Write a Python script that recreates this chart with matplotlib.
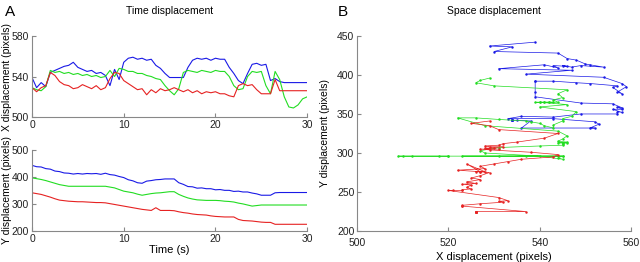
import numpy as np
import matplotlib.pyplot as plt

plt.rcParams['font.family'] = ['Liberation Sans', 'DejaVu Sans']

# time axis, sampled every 0.5 s
t = np.arange(61) * 0.5

# X position over time (pixels)
blue_x = [539, 529, 534, 530, 544, 546, 548, 550, 551, 554, 549, 547, 545, 546, 543, 544, 541, 531, 547, 537,
          554, 558, 559, 557, 558, 556, 557, 551, 548, 543, 539, 539, 539, 539, 549, 556, 558, 557, 558, 556,
          558, 557, 557, 549, 543, 536, 533, 543, 552, 553, 551, 552, 536, 538, 535, 534, 534, 534, 534, 534,
          534]
green_x = [529, 527, 526, 530, 546, 544, 545, 543, 544, 542, 543, 541, 542, 540, 541, 539, 540, 546, 540, 548,
           547, 545, 545, 543, 543, 541, 540, 538, 537, 531, 526, 522, 528, 544, 546, 545, 544, 546, 545, 544,
           546, 545, 545, 540, 531, 527, 528, 540, 545, 544, 545, 531, 523, 545, 537, 520, 510, 509, 512, 518,
           520]
red_x = [529, 525, 529, 531, 544, 541, 535, 532, 531, 528, 529, 532, 530, 528, 531, 527, 529, 538, 544, 543,
         536, 533, 530, 527, 528, 522, 527, 524, 528, 526, 527, 529, 527, 525, 527, 524, 526, 523, 525, 524,
         525, 523, 523, 521, 520, 531, 533, 531, 532, 527, 523, 523, 523, 537, 526, 526, 526, 526, 526, 526,
         526]

# Y position over time (pixels)
blue_y = [442, 437, 436, 430, 428, 421, 419, 414, 413, 410, 412, 410, 412, 411, 412, 409, 413, 408, 406, 401,
          397, 389, 385, 378, 376, 384, 386, 389, 390, 392, 392, 392, 378, 372, 364, 363, 358, 359, 356, 356,
          352, 353, 350, 350, 346, 347, 344, 344, 340, 337, 332, 332, 332, 341, 342, 342, 342, 342, 342, 342,
          342]
green_y = [396, 393, 390, 386, 381, 376, 371, 368, 365, 365, 365, 365, 365, 365, 365, 365, 365, 362, 359, 353,
           347, 344, 341, 336, 332, 335, 338, 340, 341, 343, 345, 345, 335, 328, 322, 318, 315, 314, 313, 313,
           313, 312, 310, 309, 307, 303, 300, 296, 292, 294, 296, 296, 296, 296, 296, 296, 296, 296, 296, 296,
           296]
red_y = [341, 338, 335, 330, 325, 319, 314, 312, 310, 309, 308, 308, 307, 306, 305, 305, 304, 301, 298, 295,
         292, 289, 286, 283, 280, 278, 276, 286, 276, 276, 276, 275, 271, 268, 266, 263, 261, 260, 259, 256,
         254, 253, 252, 252, 252, 243, 239, 238, 237, 235, 233, 232, 232, 225, 225, 225, 225, 225, 225, 225,
         225]

colors = ['#1a1ae6', '#22dd22', '#e62222']
xs = [blue_x, green_x, red_x]
ys = [blue_y, green_y, red_y]

fig = plt.figure(figsize=(6.4, 2.62), dpi=100)
ax1 = fig.add_axes([0.05, 0.553, 0.43, 0.31])
ax2 = fig.add_axes([0.05, 0.118, 0.43, 0.311])
ax3 = fig.add_axes([0.558, 0.118, 0.428, 0.745])


def style(ax):
    for s in ['top', 'right']:
        ax.spines[s].set_visible(False)
    for s in ['left', 'bottom']:
        ax.spines[s].set_color('#888888')
        ax.spines[s].set_linewidth(0.8)
    ax.tick_params(direction='in', length=3, width=0.8, color='#888888',
                   labelsize=7.5, pad=2, labelcolor='#222222')


for x, c in zip(xs, colors):
    ax1.plot(t, x, color=c, lw=0.8)
ax1.set_xlim(0, 30)
ax1.set_ylim(500, 580)
ax1.set_xticks([0, 10, 20, 30])
ax1.set_yticks([500, 540, 580])
ax1.set_ylabel('X displacement (pixels)', fontsize=7.5)
ax1.yaxis.set_label_coords(-0.073, 0.5)
ax1.set_title('Time displacement', fontsize=7.5, pad=16)
style(ax1)

for y, c in zip(ys, colors):
    ax2.plot(t, y, color=c, lw=0.8)
ax2.set_xlim(0, 30)
ax2.set_ylim(200, 500)
ax2.set_xticks([0, 10, 20, 30])
ax2.set_yticks([200, 300, 400, 500])
ax2.set_ylabel('Y displacement (pixels)', fontsize=7.5)
ax2.yaxis.set_label_coords(-0.073, 0.5)
ax2.set_xlabel('Time (s)', fontsize=8, labelpad=1)
style(ax2)

for x, y, c in zip(xs, ys, colors):
    ax3.plot(x, y, color=c, lw=0.5, marker='.', ms=1.5)
ax3.set_xlim(500, 560)
ax3.set_ylim(200, 450)
ax3.set_xticks([500, 520, 540, 560])
ax3.set_yticks([200, 250, 300, 350, 400, 450])
ax3.set_ylabel('Y displacement (pixels)', fontsize=7.5, labelpad=5)
ax3.set_xlabel('X displacement (pixels)', fontsize=8, labelpad=3)
ax3.set_title('Space displacement', fontsize=7.5, pad=16)
style(ax3)
ax3.tick_params(axis='x', pad=5)

fig.text(0.008, 0.955, 'A', fontsize=11, va='center')
fig.text(0.528, 0.955, 'B', fontsize=11, va='center')

fig.savefig('out.png', dpi=100)
